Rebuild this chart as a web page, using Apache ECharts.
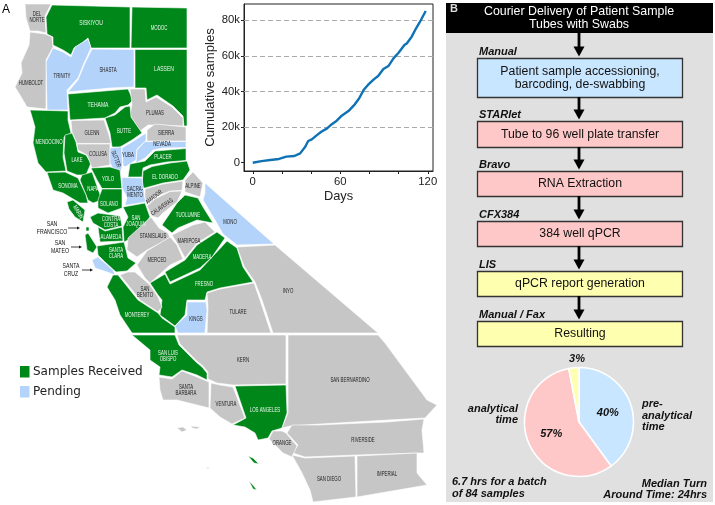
<!DOCTYPE html>
<html><head><meta charset="utf-8">
<style>html,body{margin:0;padding:0;background:#fff}#c{width:715px;height:505px}</style>
<script src="https://cdn.jsdelivr.net/npm/echarts@6/dist/echarts.min.js"></script>
</head><body><div id="c"></div>
<script>
// ---- data ----
const days=[0,6,12,18,23,28.5,32.5,36,38,40.5,44,47,51,54,57.6,61,65.6,70,73,76,79,83,86,89.6,93,96.5,100,104,105.6,109,112,114.7,118.6];
const cumulativeSamples=[0,900,1500,2100,3400,3750,5250,9000,12200,13100,15500,17400,19300,21500,23600,26400,29000,32800,36200,40800,43700,46800,48700,52600,54300,58600,61800,66100,67000,70800,75500,79200,85200];
const xTicks=[0,20,40,60,80,100,120];
const xLabels=[0,60,120];
const yTicks=[0,20000,40000,60000,80000];
const gridValues=[20000,40000,60000,80000];
const pieNames=['pre-analytical','analytical','post-analytical'];
const pieValues=[40,57,3];
const stepTools=['Manual','STARlet','Bravo','CFX384','LIS','Manual / Fax'];
const stepTexts=['Patient sample accessioning,\nbarcoding, de-swabbing','Tube to 96 well plate transfer','RNA Extraction','384 well qPCR','qPCR report generation','Resulting'];
const received=['Siskiyou','Modoc','Lassen','Tehama','Butte','Mendocino','Lake','Sonoma','Napa','Yolo','Solano','Marin','Placer','El Dorado','Contra Costa','Alameda','San Francisco','San Mateo','Santa Clara','San Joaquin','Tuolumne','Madera','Fresno','Monterey','San Luis Obispo','Los Angeles'];
const pending=['Trinity','Shasta','Sutter','Yuba','Nevada','Sacramento','Mono','Santa Cruz','Kings'];
const notReceived=['Del Norte','Humboldt','Plumas','Glenn','Colusa','Sierra','Alpine','Amador','Calaveras','Stanislaus','Mariposa','Merced','San Benito','Tulare','Inyo','Kern','San Bernardino','Santa Barbara','Ventura','Orange','Riverside','San Diego','Imperial'];
// county outlines: [ring,...]
const outlines={
'Del Norte':[[[25,4],[51,4],[45,16],[46,33],[38,31],[30,31],[26,18]]],
'Siskiyou':[[[52,5],[130,7],[130,48],[91,48],[88,38],[82,43],[74,48],[71,55],[63,50],[53,45],[53,37],[47,34],[46,17]]],
'Modoc':[[[132,7],[187,8],[187,48],[131,48]]],
'Lassen':[[[135,49.5],[187,49.5],[187,126],[184,126],[183,116],[173,106],[157,95],[147,100],[146,88],[135,88]]],
'Shasta':[[[92,49],[134,49.5],[134,87],[110,88],[68,92],[78,80],[85,63]]],
'Trinity':[[[53,48],[63,52],[71,57],[75,47],[88,39],[91,48],[84,63],[78,78],[67,90],[68,110],[47,110],[46,62]]],
'Humboldt':[[[30,32],[45,34],[52,37],[53,47],[46,60],[46,109],[27,107],[20,95],[15,87],[22,73],[21,63],[29,45]]],
'Tehama':[[[68,94],[128,89],[133,100],[128,105],[120,107],[115,113],[105,118],[70,120]]],
'Plumas':[[[130,89],[145,89],[146,102],[156,97],[172,107],[183,118],[183,126],[157,125],[148,125],[140,131],[130,115],[132,104]]],
'Butte':[[[125,107],[130,106],[131,117],[142,133],[132,140],[120,147],[112,147],[110,133],[105,118],[115,115]]],
'Glenn':[[[71,120.5],[104,120],[109,135],[111,143.5],[77,143.5],[72,132]]],
'Mendocino':[[[30,110],[68,111],[68,120],[71,133],[64,137],[63,157],[66,171],[46,172],[38,163],[33,143],[35,127]]],
'Lake':[[[65,135],[72,133],[76,142],[78,152],[86,155],[91,163],[86,175],[77,175],[67,171],[64,153]]],
'Colusa':[[[77,144],[110,144],[110,165],[92,168],[87,155],[78,150]]],
'Sutter':[[[110,148],[121.5,147],[122.5,165],[120,175],[117,175],[110,163]]],
'Yuba':[[[122,148],[132,142],[146,133],[146,140.5],[137,149],[136,160],[125,167],[123,165]]],
'Nevada':[[[136,163],[137,150],[145,141.5],[186,141.5],[186,147.5],[163,148],[153,150],[145,158]]],
'Sierra':[[[147,130],[155,124],[186,127],[186,141],[147,141]]],
'Placer':[[[128,177],[130,164],[145,161],[155,151],[186,148.5],[186,160.5],[167,162],[150,165],[143,168],[142,177]]],
'El Dorado':[[[142,188],[143,171],[152,166.5],[170,163],[187,161],[190,170],[183,180],[163,183],[145,188]]],
'Yolo':[[[91,168],[110,167],[120,170],[122,188.5],[102,188.5],[97,180]]],
'Napa':[[[82,175],[92,172],[102,200],[93,203],[88,200],[80,180]]],
'Sonoma':[[[47,172.5],[65,172],[78,178],[86,195],[88,203],[80,203],[63,193],[53,190]]],
'Solano':[[[98,200],[102,189],[122,189],[122,208],[108,213],[98,208]]],
'Marin':[[[67,202],[73,200],[85,210],[83,222],[75,217],[69,209]]],
'Sacramento':[[[122,177.5],[142,178],[145.5,202],[125,205.5],[127,197],[122,188]]],
'Alpine':[[[185,180],[193,172],[203,183],[200,197],[185,192]]],
'Mono':[[[205,183],[274,244],[237,245],[223,234],[215,220],[203,200],[205,193]]],
'Amador':[[[145,197],[145,189],[163,184],[183,181],[182,190.5],[170,191],[153,198],[147,205]]],
'Calaveras':[[[147,206],[155,199],[170,191.5],[182,191],[177,202],[163,213],[158,218],[152,216]]],
'Tuolumne':[[[162,225],[177,203],[185,195],[198,198],[203,207],[213,223],[197,220],[178,228],[172,233]]],
'San Joaquin':[[[123,207],[145,203],[150,217],[140,230],[128,240],[124,242],[123,227],[128,217]]],
'Contra Costa':[[[90,217],[98,213],[120,216],[122,226],[105,230],[93,223]]],
'Alameda':[[[98,227],[105,231],[122,227],[123,241],[100,242]]],
'San Francisco':[[[86,227],[89,227],[89,231],[86,231]]],
'San Mateo':[[[85,235],[88,233],[97,247],[93,253],[87,250]]],
'Santa Clara':[[[97,246],[124,242],[128,258],[136,263],[127,271],[116,272],[105,262],[98,255]]],
'Santa Cruz':[[[92,260],[98,257],[113,270],[115,275],[107,272],[95,268]]],
'Stanislaus':[[[128,238],[151,217],[159,228],[168,233],[170,238],[147,250],[137,257],[127,250]]],
'Merced':[[[137,265],[147,251],[170,237],[177,245],[183,259],[170,265],[150,283],[145,278]]],
'Mariposa':[[[172,235],[193,225],[205,222],[215,232],[197,243],[185,258],[177,243]]],
'Madera':[[[165,272],[185,260],[197,245],[217,232],[225,238],[212,257],[200,268],[170,282]]],
'Fresno':[[[150,283],[165,274],[170,284],[200,270],[227,241],[237,248],[243,267],[253,282],[220,288],[207,292],[205,300],[187,300],[185,315],[175,326],[160,315],[162,300],[158,295]]],
'San Benito':[[[120,275],[128,272],[135,272],[150,285],[158,297],[162,307],[158,312],[140,300]]],
'Monterey':[[[113,275],[118,275],[138,300],[158,313],[162,318],[175,327],[175,333],[132,333],[120,315],[115,300],[107,287]]],
'Kings':[[[187,302],[206,302],[207,310],[205,333],[178,333],[175,326],[187,315]]],
'Tulare':[[[207,293],[220,289],[254,283],[260,300],[271,333],[207,333],[208,307]]],
'Inyo':[[[237,247],[275,245],[378,333],[273,333],[262,300],[255,282],[244,266]]],
'Kern':[[[177,335],[286,335],[286,384],[233,385],[217,383],[208,379],[208,372],[203,366],[197,361],[192,356],[187,351],[180,344]]],
'San Luis Obispo':[[[132,335],[175,335],[179,345],[186,352],[191,357],[196,362],[202,367],[207,373],[207,380],[197,375],[182,370],[172,377],[159,375],[160,367],[150,360],[150,350]]],
'Santa Barbara':[[[159,377],[172,379],[182,371],[197,377],[209,382],[209,408],[197,405],[177,400],[163,400],[160,390]],[[177,428],[183,427],[187,430],[182,432]],[[191,426],[200,427],[197,429],[192,428]]],
'Ventura':[[[211,383],[220,385],[233,387],[245,418],[232,424],[220,417],[210,408]],[[205,467],[210,468],[208,469]]],
'Los Angeles':[[[235,386],[286,385],[287,413],[282,428],[272,431],[268,438],[258,440],[255,433],[245,427],[233,425],[246,418]],[[248,456],[253,458],[259,464],[254,463]],[[249,481],[252,484],[257,490],[253,489]]],
'San Bernardino':[[[288,335],[378,335],[385,343],[427,400],[437,405],[425,418],[388,420],[320,424],[290,426],[282,428],[288,413]]],
'Riverside':[[[292,425],[318,425],[387,422],[424,419],[422,430],[424,453],[417,453],[357,455],[305,457],[293,453],[298,445],[287,433]]],
'Orange':[[[273,431],[282,431],[286,433],[297,446],[292,457],[283,453],[269,439]]],
'San Diego':[[[292,455],[305,458],[355,456],[356,497],[313,502],[310,490],[302,473]]],
'Imperial':[[[357,456],[417,453],[417,473],[427,485],[357,497]]]
};
// label: [text, x, y, size, rotate]
const S=6.4,L=7.4;
const countyLabels={
'Del Norte':['DEL\nNORTE',37,17,S,0],'Siskiyou':['SISKIYOU',91,23,L,0],'Modoc':['MODOC',159,28,S,0],'Trinity':['TRINITY',62,76,S,0],'Shasta':['SHASTA',108,70,S,0],'Lassen':['LASSEN',164,69,L,0],'Humboldt':['HUMBOLDT',31,83,S,0],'Tehama':['TEHAMA',98,105,L,0],'Plumas':['PLUMAS',155,113,S,0],'Glenn':['GLENN',92,133,S,0],'Butte':['BUTTE',124,131,S,0],'Sierra':['SIERRA',166,133,S,0],'Nevada':['NEVADA',162,144,S,0],'Mendocino':['MENDOCINO',49,142,S,0],'Placer':['PLACER',163,157,S,0],'Yuba':['YUBA',128,155,S,0],'Sutter':['SUTTER',116,159,S,-70],'Colusa':['COLUSA',98,154,S,0],'Lake':['LAKE',77,160,S,0],'Yolo':['YOLO',108,179,S,0],'Napa':['NAPA',93,189,S,0],'Sonoma':['SONOMA',68,186,S,0],'El Dorado':['EL DORADO',165,177,S,0],'Sacramento':['SACRA-\nMENTO',135,192,S,0],'Solano':['SOLANO',109,204,S,0],'Alpine':['ALPINE',193,186,S,0],'Amador':['AMADOR',154,197,S,38],'Calaveras':['CALAVERAS',162,207,S,35],'Tuolumne':['TUOLUMNE',188,215,S,0],'Mono':['MONO',230,222,S,0],'Marin':['MARIN',78,212,S,-60],'Contra Costa':['CONTRA\nCOSTA',111,222,S,0],'San Joaquin':['SAN\nJOAQUIN',136,221,S,0],'Alameda':['ALAMEDA',111,237,S,0],'Stanislaus':['STANISLAUS',153,236,S,0],'Mariposa':['MARIPOSA',189,241,S,0],'Santa Clara':['SANTA\nCLARA',116,253,S,0],'Merced':['MERCED',157,260,S,0],'Madera':['MADERA',202,257,S,0],'San Benito':['SAN\nBENITO',145,292,S,0],'Fresno':['FRESNO',204,284,S,0],'Tulare':['TULARE',238,312,S,0],'Kings':['KINGS',196,319,S,0],'Monterey':['MONTEREY',137,315,S,0],'San Luis Obispo':['SAN LUIS\nOBISPO',168,356,S,0],'Kern':['KERN',243,360,S,0],'Inyo':['INYO',288,291,S,0],'San Bernardino':['SAN BERNARDINO',350,380,S,0],'Santa Barbara':['SANTA\nBARBARA',186,390,S,0],'Ventura':['VENTURA',226,404,S,0],'Los Angeles':['LOS ANGELES',265,410,S,0],'Orange':['ORANGE',282,443,S,0],'Riverside':['RIVERSIDE',363,440,S,0],'San Diego':['SAN DIEGO',329,479,S,0],'Imperial':['IMPERIAL',387,474,S,0]
};
// ---- styling ----
const GREEN='#00871a',BLUE='#b4d3fb',GRAY='#c6c6c6';
const SANS='"Liberation Sans",Arial,sans-serif';
const features=Object.keys(outlines).map(n=>({type:'Feature',properties:{name:n},geometry:{type:'MultiPolygon',coordinates:outlines[n].map(r=>[r.concat([r[0]])])}}));
echarts.registerMap('ca',{type:'FeatureCollection',features});
let xs=[],ys=[];Object.values(outlines).forEach(p=>p.forEach(r=>r.forEach(q=>{xs.push(q[0]);ys.push(q[1]);})));
const bx0=Math.min(...xs),bx1=Math.max(...xs),by0=Math.min(...ys),by1=Math.max(...ys);
const countyItem=(name,color)=>({name,value:1,itemStyle:{areaColor:color,color}});
const mapData=[...received.map(n=>countyItem(n,GREEN)),...pending.map(n=>countyItem(n,BLUE)),...notReceived.map(n=>countyItem(n,GRAY))];

const g=[];
g.push({type:'rect',z:-5,shape:{x:446,y:3,width:267,height:499},style:{fill:'#e0e0e0'}});
g.push({type:'rect',z:1,shape:{x:446,y:3,width:267,height:30},style:{fill:'#000'}});
g.push({type:'text',z:2,style:{x:579,y:18,text:'Courier Delivery of Patient Sample\nTubes with Swabs',fill:'#fff',font:'12.4px '+SANS,align:'center',verticalAlign:'middle',lineHeight:13}});
g.push({type:'text',z:2,style:{x:450,y:3,text:'B',fill:'#ddd',font:'bold 11px '+SANS}});
g.push({type:'text',z:2,style:{x:2,y:4,text:'A',fill:'#000',font:'12px '+SANS}});
const boxes=[[58,97,'#c8e6ff'],[121,147,'#ffc8c8'],[171,196,'#ffc8c8'],[221,246,'#ffc8c8'],[271,296,'#ffffb0'],[321,346,'#ffffb0']];
let prevBottom=33;
boxes.forEach((b,i)=>{
  g.push({type:'rect',z:1,shape:{x:477.5,y:b[0]+.5,width:205,height:b[1]-b[0]},style:{fill:b[2],stroke:'#333',lineWidth:1.3}});
  g.push({type:'text',z:2,style:{x:580,y:(b[0]+b[1])/2+.5,text:stepTexts[i],fill:'#111',font:'12.3px '+SANS,align:'center',verticalAlign:'middle',lineHeight:13}});
  g.push({type:'text',z:2,style:{x:479,y:b[0]-6,text:stepTools[i],fill:'#111',font:'italic bold 11px '+SANS,align:'left',verticalAlign:'middle'}});
  const tip=b[0]-1.5;
  g.push({type:'line',z:3,shape:{x1:579,y1:prevBottom,x2:579,y2:tip-8},style:{stroke:'#000',lineWidth:2.8}});
  g.push({type:'polygon',z:3,shape:{points:[[573.5,tip-10],[584.5,tip-10],[579,tip]]},style:{fill:'#000'}});
  prevBottom=b[1];
});
const ital='italic bold 11px '+SANS;
[[518,414.5,'analytical\ntime','right'],[642,415.5,'pre-\nanalytical\ntime','left'],[452,488,'6.7 hrs for a batch\nof 84 samples','left'],[707,489.5,'Median Turn\nAround Time: 24hrs','right']].forEach(a=>{
  g.push({type:'text',z:4,style:{x:a[0],y:a[1],text:a[2],fill:'#111',font:ital,align:a[3],verticalAlign:'middle',lineHeight:11.5}});
});
// legend
[[366,GREEN,'Samples Received'],[386,BLUE,'Pending']].forEach(a=>{
  g.push({type:'rect',z:3,shape:{x:20,y:a[0],width:9.5,height:11.5},style:{fill:a[1]}});
  g.push({type:'text',z:3,style:{x:33,y:a[0]+6,text:a[2],fill:'#222',font:'12px "DejaVu Sans"',align:'left',verticalAlign:'middle'}});
});
// county names
const labelColor=n=>received.includes(n)?'#eef6ee':'#222';
Object.keys(countyLabels).forEach(n=>{
  const l=countyLabels[n];
  g.push({type:'text',z:6,x:l[1],y:l[2],scaleX:.68,rotation:l[4]*Math.PI/180,style:{x:0,y:0,text:l[0],fill:labelColor(n),font:l[3]+'px '+SANS,align:'center',verticalAlign:'middle',lineHeight:l[3]}});
});
// callouts
[[52,228,'SAN\nFRANCISCO',68,80],[60,247,'SAN\nMATEO',71,82],[71,270,'SANTA\nCRUZ',82,93]].forEach(a=>{
  g.push({type:'text',z:3,x:a[0],y:a[1],scaleX:.72,style:{x:0,y:0,text:a[2],fill:'#111',font:'7.2px '+SANS,align:'center',verticalAlign:'middle',lineHeight:7.8}});
  g.push({type:'line',z:3,shape:{x1:a[3],y1:a[1],x2:a[4]-2,y2:a[1]},style:{stroke:'#111',lineWidth:.8}});
  g.push({type:'polygon',z:3,shape:{points:[[a[4]-3,a[1]-1.5],[a[4]-3,a[1]+1.5],[a[4],a[1]]]},style:{fill:'#111'}});
});

const chart=echarts.init(document.getElementById('c'),null,{renderer:'canvas'});
chart.setOption({
  animation:false,backgroundColor:'#fff',
  grid:{left:244,top:4,width:189,height:167,show:true,borderColor:'#222',borderWidth:1,backgroundColor:'#fff',z:0},
  xAxis:{type:'value',min:-6,max:123.6,name:'Days',nameLocation:'middle',nameGap:19,nameTextStyle:{fontSize:12.8,color:'#222',fontFamily:SANS},
    axisLine:{show:true,onZero:false,lineStyle:{color:'#222'}},splitLine:{show:false},
    axisTick:{show:true,length:3,customValues:xTicks,lineStyle:{color:'#222'}},
    axisLabel:{customValues:xLabels,fontSize:11.3,color:'#222',margin:5,fontFamily:SANS,formatter:v=>String(v)}},
  yAxis:{type:'value',min:-4660,max:89160,name:'Cumulative samples',nameLocation:'middle',nameGap:27,nameTextStyle:{fontSize:13.2,color:'#222',fontFamily:SANS},
    axisLine:{show:true,onZero:false,lineStyle:{color:'#222'}},splitLine:{show:false},
    axisTick:{show:true,length:3,customValues:yTicks,lineStyle:{color:'#222'}},
    axisLabel:{customValues:yTicks,fontSize:11.3,color:'#222',margin:4,fontFamily:SANS,formatter:v=>v===0?'0':(v/1000)+'k'}},
  series:[
   {type:'map',map:'ca',projection:{project:p=>p,unproject:p=>p},left:bx0,top:by0,width:bx1-bx0,height:by1-by0,roam:false,silent:true,z:1,
    aspectScale:1,selectedMode:false,
    itemStyle:{borderColor:'#fff',borderWidth:.6,areaColor:GRAY},
    label:{show:false},emphasis:{disabled:true},data:mapData},
   {type:'line',xAxisIndex:0,yAxisIndex:0,data:days.map((d,i)=>[d,cumulativeSamples[i]]),showSymbol:false,lineStyle:{color:'#0f72b5',width:2.4},z:5,
    markLine:{silent:true,symbol:'none',label:{show:false},animation:false,lineStyle:{color:'#aaa',type:[5,3],width:1.2},data:gridValues.map(v=>({yAxis:v}))}},
   {type:'pie',center:[579,422],radius:[0,54.5],startAngle:90,clockwise:true,z:5,silent:true,
    itemStyle:{borderColor:'#fff',borderWidth:1.6},
    label:{show:true,position:'inside',formatter:'{c}%',fontSize:11,fontStyle:'italic',fontWeight:'bold',color:'#111',fontFamily:SANS},
    labelLine:{show:false},
    labelLayout:p=>p.dataIndex===2?{x:577,y:359,align:'center',verticalAlign:'middle'}:{},
    data:[
      {name:pieNames[0],value:pieValues[0],itemStyle:{color:'#c8e6ff'}},
      {name:pieNames[1],value:pieValues[1],itemStyle:{color:'#ffc8c8'}},
      {name:pieNames[2],value:pieValues[2],itemStyle:{color:'#ffffb0'}}
    ]}
  ],
  graphic:{elements:g}
});
</script></body></html>
